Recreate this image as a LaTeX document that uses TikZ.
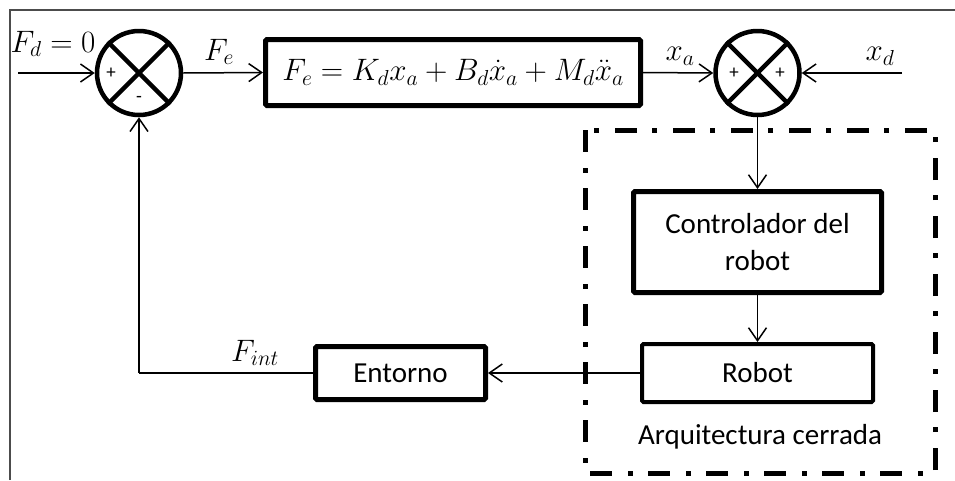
\RequirePackage{fix-cm}
\documentclass[tikz,border=0pt]{standalone}
\usepackage{fontspec}
\setmainfont{Carlito}
\usetikzlibrary{arrows.meta}
\begin{document}
\begin{tikzpicture}[x=1pt,y=-1pt,
  every node/.style={font=\fontsize{29}{37}\selectfont},
  mathtxt/.style={font=\fontsize{31}{38}\selectfont},
  conn/.style={line width=1.5pt,-{Straight Barb[length=13pt,width=18pt,line width=1.5pt]}},
  plain/.style={line width=1.5pt},
  blk/.style={draw,line width=5pt,rounded corners=1.5pt,inner sep=0pt,align=center},
  sumc/.style={draw,circle,line width=4.5pt,minimum size=84pt,inner sep=0pt},
  xline/.style={line width=4.5pt},
  sgn/.style={font=\fontsize{19}{20}\selectfont,inner sep=0pt},
  lbl/.style={inner sep=0pt},
  dashdot/.style={line width=5pt,dash pattern=on 22pt off 16pt on 5pt off 15pt},
  frame/.style={line width=2pt,draw=black!70}
]
\useasboundingbox (0,0) rectangle (955,480);
\draw[frame] (10,480) -- (10,10) -- (955,10);

% summing junctions
\node[sumc] (s1) at (139,73) {};
\draw[xline] (s1.45) -- (s1.225);
\draw[xline] (s1.135) -- (s1.315);
\node[sgn] (p1) at (111,73) {+};
\node[sgn] (m1) at (139,99) {-};

\node[sumc] (s2) at (757.5,73) {};
\draw[xline] (s2.45) -- (s2.225);
\draw[xline] (s2.135) -- (s2.315);
\node[sgn] (p2) at (734,73) {+};
\node[sgn] (p3) at (780,73) {+};

% blocks
\node[blk,mathtxt,minimum width=375pt,minimum height=66pt] (fe) at (453,72.5)
  {$F_e = K_d x_a + B_d \dot{x}_a + M_d \ddot{x}_a$};
\node[blk,minimum width=248pt,minimum height=101pt] (ctrl) at (757.5,242)
  {Controlador del\\robot};
\node[blk,line width=4pt,minimum width=231pt,minimum height=58pt] (rob) at (757.5,373) {Robot};
\node[blk,minimum width=170pt,minimum height=53pt] (ent) at (400.5,373) {Entorno};

% dash-dot boundary
\draw[dashdot] (585,130) rectangle (935,473);
\node[lbl] (arq) at (760,437) {Arquitectura cerrada};

% connectors
\coordinate (fin) at (18,73);
\coordinate (xdin) at (902,73);
\coordinate (fb) at (139,373);
\draw[conn] (fin) -- (s1.west);
\draw[conn] (s1.east) -- (fe.west);
\draw[conn] (fe.east) -- (s2.west);
\draw[conn] (xdin) -- (s2.east);
\draw[conn] (s2.south) -- (ctrl.north);
\draw[conn] (ctrl.south) -- (rob.north);
\draw[conn] (rob.west) -- (ent.east);
\draw[plain] (ent.west) -- (fb);
\draw[conn] (fb) -- (s1.south);

% labels
\node[lbl,mathtxt] (lfd) at (53,44) {$F_d = 0$};
\node[lbl,mathtxt] (lfe) at (219,52) {$F_e$};
\node[lbl,mathtxt] (lxa) at (680,56) {$x_a$};
\node[lbl,mathtxt] (lxd) at (880,56) {$x_d$};
\node[lbl,mathtxt] (lfi) at (255,353) {$F_{int}$};
\end{tikzpicture}
\end{document}
